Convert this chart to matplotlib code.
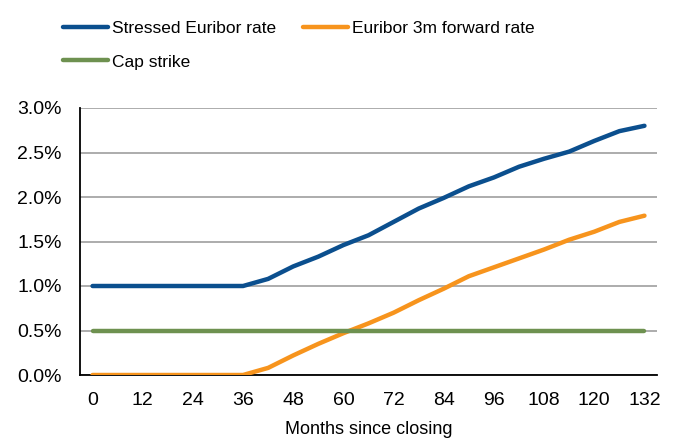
import numpy as np
import matplotlib.pyplot as plt
from matplotlib.ticker import FuncFormatter

plt.rcParams['font.family'] = ['Liberation Sans', 'DejaVu Sans']

# months since closing, one point every 6 months
months = list(range(0, 133, 6))
# rates in %
stressed = [1.0, 1.0, 1.0, 1.0, 1.0, 1.0, 1.0, 1.08, 1.22, 1.33, 1.46, 1.57, 1.72,
            1.87, 1.99, 2.12, 2.22, 2.34, 2.43, 2.51, 2.63, 2.74, 2.80]
forward = [0.0, 0.0, 0.0, 0.0, 0.0, 0.0, 0.0, 0.08, 0.22, 0.35, 0.47, 0.58, 0.70,
           0.84, 0.97, 1.11, 1.21, 1.31, 1.41, 1.52, 1.61, 1.72, 1.79]
cap_strike = [0.5] * len(months)
xticks = list(range(0, 133, 12))

blue = '#0B4F8E'
orange = '#F7941D'
green = '#6E9150'

fig = plt.figure(figsize=(6.73, 4.42), dpi=100)
ax = fig.add_axes([80/673, 1-375/442, (657-80)/673, (375-108)/442])

lw = 3.2
l1, = ax.plot(months, stressed, color=blue, lw=lw, solid_capstyle='round', label='Stressed Euribor rate', zorder=3)
l2, = ax.plot(months, forward, color=orange, lw=lw, solid_capstyle='round', label='Euribor 3m forward rate', zorder=3)
l3, = ax.plot(months, cap_strike, color=green, lw=lw, solid_capstyle='round', label='Cap strike', zorder=3)

ax.set_xlim(-3, 135)
ax.set_ylim(0, 3.0)
ax.set_xticks(xticks)
ax.set_yticks(np.arange(0, 3.01, 0.5))
ax.yaxis.set_major_formatter(FuncFormatter(lambda v, p: f'{v:.1f}%'))
ax.tick_params(axis='both', length=0, labelsize=14)
ax.tick_params(axis='y', pad=13)
ax.tick_params(axis='x', pad=12)
ax.grid(axis='y', color='#A6A6A6', lw=1.3)
ax.set_axisbelow(True)
for s in ['top', 'right']:
    ax.spines[s].set_visible(False)
ax.spines['left'].set_linewidth(1.3)
ax.spines['bottom'].set_linewidth(1.3)
ax.set_xlabel('Months since closing', fontsize=13, labelpad=9)

# order so that the first row holds the two Euribor lines
fig.legend([l1, l3, l2], [l1.get_label(), l3.get_label(), l2.get_label()],
           loc='upper left', bbox_to_anchor=(63/673, 1-21/442), ncol=2, frameon=False,
           fontsize=12.5, handlelength=2.6, handletextpad=0.25, columnspacing=1.5,
           labelspacing=1.05, borderpad=0, borderaxespad=0)

fig.savefig('out.png', dpi=100)
